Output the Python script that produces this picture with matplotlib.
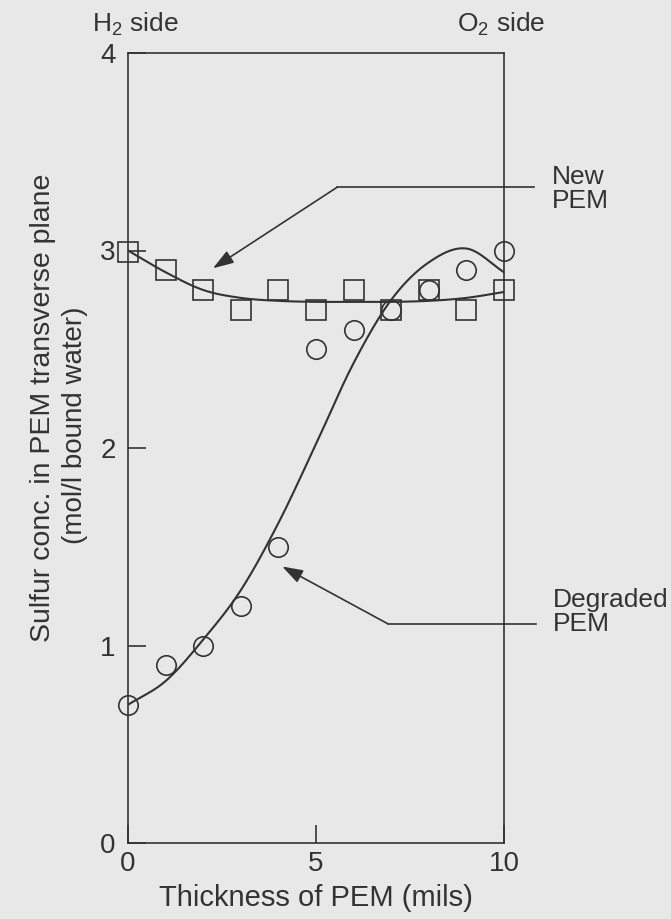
import numpy as np
import matplotlib
matplotlib.use('Agg')
import matplotlib.pyplot as plt

# thickness positions (mils)
thickness = [0, 1, 2, 3, 4, 5, 6, 7, 8, 9, 10]

# measured points
new_pem = [2.99, 2.90, 2.80, 2.70, 2.80, 2.70, 2.80, 2.70, 2.80, 2.70, 2.80]
degraded_pem = [0.70, 0.90, 1.00, 1.20, 1.50, 2.50, 2.60, 2.70, 2.80, 2.90, 3.00]

# hand-drawn trend curves, read at each mil
new_curve = [3.00, 2.89, 2.80, 2.76, 2.745, 2.74, 2.74, 2.74, 2.745, 2.76, 2.79]
degraded_curve = [0.70, 0.82, 1.03, 1.28, 1.62, 2.02, 2.43, 2.75, 2.94, 3.01, 2.89]

W, H = 671, 919
INK = '#333333'
PAPER = '#e8e8e8'

plt.rcParams['font.family'] = ['Liberation Sans', 'DejaVu Sans']
plt.rcParams['mathtext.fontset'] = 'custom'
plt.rcParams['mathtext.rm'] = 'Liberation Sans'


def smooth(x, y, n=20):
    # catmull-rom through the read points
    x = np.asarray(x, float)
    y = np.asarray(y, float)
    px = np.concatenate([[2 * x[0] - x[1]], x, [2 * x[-1] - x[-2]]])
    py = np.concatenate([[2 * y[0] - y[1]], y, [2 * y[-1] - y[-2]]])
    xs, ys = [], []
    for i in range(1, len(px) - 2):
        t = np.linspace(0, 1, n, endpoint=False)
        for arr, out in ((px, xs), (py, ys)):
            p0, p1, p2, p3 = arr[i - 1], arr[i], arr[i + 1], arr[i + 2]
            out.extend(0.5 * (2 * p1 + (-p0 + p2) * t
                              + (2 * p0 - 5 * p1 + 4 * p2 - p3) * t ** 2
                              + (-p0 + 3 * p1 - 3 * p2 + p3) * t ** 3))
    xs.append(x[-1])
    ys.append(y[-1])
    return np.array(xs), np.array(ys)


fig = plt.figure(figsize=(W / 100, H / 100), dpi=100, facecolor=PAPER)
ax = fig.add_axes([128 / W, 1 - 843 / H, 376 / W, 790 / H])
ax.set_facecolor(PAPER)

sx, sy = smooth(thickness, new_curve)
ax.plot(sx, sy, color=INK, lw=1.5, zorder=2)
sx, sy = smooth(thickness, degraded_curve)
ax.plot(sx, sy, color=INK, lw=1.5, zorder=2)

ax.plot(thickness, new_pem, 's', ms=14, mfc='none', mec=INK, mew=1.2,
        clip_on=False, zorder=3)
ax.plot(thickness, degraded_pem, 'o', ms=14, mfc='none', mec=INK, mew=1.2,
        clip_on=False, zorder=3)

ax.set_xlim(0, 10)
ax.set_ylim(0, 4)
ax.set_xticks([0, 5, 10])
ax.set_yticks([0, 1, 2, 3, 4])
ax.tick_params(direction='in', length=13, width=1.2, color=INK,
               labelcolor=INK, labelsize=20)
ax.tick_params(axis='y', pad=9)
ax.tick_params(axis='x', pad=6)
for s in ax.spines.values():
    s.set_color(INK)
    s.set_linewidth(1.2)

# leader lines with arrows
arrow = dict(arrowstyle='-|>,head_length=0.9,head_width=0.3', color=INK,
             lw=1.2, mutation_scale=14, shrinkA=0, shrinkB=0)
ax.plot([10.8, 5.56], [3.32, 3.32], color=INK, lw=1.2, clip_on=False)
ax.annotate('', xy=(2.26, 2.91), xytext=(5.56, 3.32), arrowprops=arrow,
            annotation_clip=False)
ax.plot([10.85, 6.91], [1.11, 1.11], color=INK, lw=1.2, clip_on=False)
ax.annotate('', xy=(4.10, 1.40), xytext=(6.91, 1.11), arrowprops=arrow,
            annotation_clip=False)

ax.text(11.28, 3.31, 'New\nPEM', fontsize=19, color=INK, ha='left',
        va='center', linespacing=1.0)
ax.text(11.30, 1.17, 'Degraded\nPEM', fontsize=19, color=INK, ha='left',
        va='center', linespacing=1.0)

fig.text(92 / W, 1 - 32 / H, r'$\mathregular{H_2}$ side', fontsize=19,
         color=INK, va='baseline', ha='left')
fig.text(457 / W, 1 - 32 / H, r'$\mathregular{O_2}$ side', fontsize=19,
         color=INK, va='baseline', ha='left')

fig.text(316 / W, 1 - 898 / H, 'Thickness of PEM (mils)', fontsize=21,
         color=INK, ha='center', va='center')
fig.text(43 / W, 1 - 408 / H, 'Sulfur conc. in PEM transverse plane',
         fontsize=20.5, color=INK, ha='center', va='center', rotation=90)
fig.text(75 / W, 1 - 425 / H, '(mol/l bound water)', fontsize=20,
         color=INK, ha='center', va='center', rotation=90)

fig.savefig('out.png', dpi=100, facecolor=PAPER)
